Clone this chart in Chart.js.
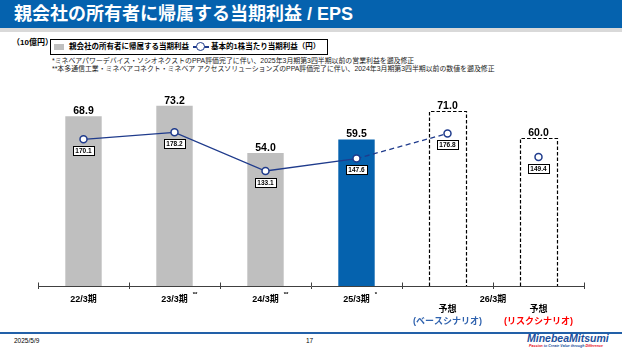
<!DOCTYPE html>
<html>
<head>
<meta charset="utf-8">
<script src="https://cdn.jsdelivr.net/npm/chart.js@4/dist/chart.umd.min.js"></script>
<style>
  body { margin: 0; width: 622px; height: 350px; background: #fff; position: relative; overflow: hidden;
         font-family: "Liberation Sans", "Noto Sans CJK JP", sans-serif; color: #000; }
  .abs { position: absolute; white-space: nowrap; }
  #titlebar { left: 0; top: 0; width: 622px; height: 28px; background: #0562AE; }
  #band { left: 0; top: 28px; width: 622px; height: 4px; background: #D9D9D9; }
  #title { left: 14px; top: 3px; font-size: 18px; line-height: 22px; font-weight: bold; color: #fff; }
  #unit { left: 12px; top: 38px; font-size: 8px; line-height: 10px; font-weight: bold; }
  #legend { left: 50px; top: 39px; width: 276px; height: 14px; border: 1px solid #000; }
  .lg { font-size: 7.5px; line-height: 10px; font-weight: bold; top: 2px; }
  .note { left: 52px; font-size: 6.9px; line-height: 8px; color: #222; }
  #foot { left: 0; top: 332px; width: 622px; height: 1.5px; background: #2260A8; }
  .ft { font-size: 6.5px; line-height: 8px; top: 337px; }
  #chartwrap { left: 0; top: 80px; width: 622px; height: 250px; }
</style>
</head>
<body>
<div id="titlebar" class="abs"></div>
<div id="band" class="abs"></div>
<div id="title" class="abs">親会社の所有者に帰属する当期利益 / EPS</div>
<div id="unit" class="abs">（10億円）</div>
<div id="legend" class="abs">
  <div class="abs" style="left:3px;top:4px;width:10px;height:6px;background:#BFBFBF;"></div>
  <div class="abs lg" style="left:18px;">親会社の所有者に帰属する当期利益</div>
  <div class="abs" style="left:142px;top:6px;width:16px;height:2px;background:#1F3B8C;"></div>
  <div class="abs" style="left:145px;top:2px;width:7px;height:7px;border:1.5px solid #1F3B8C;border-radius:50%;background:#fff;"></div>
  <div class="abs lg" style="left:160px;">基本的1株当たり当期利益（円）</div>
</div>
<div class="abs note" style="top:57px;">*ミネベアパワーデバイス・ソシオネクストのPPA評価完了に伴い、2025年3月期第3四半期以前の営業利益を遡及修正</div>
<div class="abs note" style="top:65px;">**本多通信工業・ミネベアコネクト・ミネベア アクセスソリューションズのPPA評価完了に伴い、2024年3月期第3四半期以前の数値を遡及修正</div>
<div id="chartwrap" class="abs"><canvas id="c" width="622" height="250"></canvas></div>
<div id="foot" class="abs"></div>
<div class="abs ft" style="left:14px;">2025/5/9</div>
<div class="abs ft" style="left:306px;">17</div>
<div class="abs" style="left:527px;top:332px;font-size:10.5px;line-height:12px;font-weight:bold;font-style:italic;color:#1B4F9C;">MinebeaMitsumi</div>
<div class="abs" style="left:529px;top:344px;font-size:3.6px;line-height:4px;font-weight:bold;font-style:italic;color:#1B4F9C;"><span style="color:#E60012">Passion</span> to Create Value through <span style="color:#E60012">Difference</span></div>
<script>
// data
const categories = ['22/3期', '23/3期', '24/3期', '25/3期', '予想', '予想'];
const netIncome = [68.9, 73.2, 54.0, 59.5, 71.0, 60.0];
const eps = [170.1, 178.2, 133.1, 147.6, 176.8, 149.4];
const marks = ['', '**', '**', '*', '', ''];
const scenarios = ['', '', '', '', '(ベースシナリオ)', '(リスクシナリオ)'];
const scenarioColors = ['', '', '', '', '#2F62AE', '#FF0000'];
const forecastYear = '26/3期';

const NAVY = '#1F3B8C';
const isForecast = i => i >= 4;

const overlay = {
  id: 'overlay',
  beforeDatasetsDraw(chart) {
    const c = chart.ctx;
    const meta = chart.getDatasetMeta(1);
    c.save();
    c.strokeStyle = '#000';
    c.lineWidth = 1.2;
    c.setLineDash([3.5, 2]);
    meta.data.forEach((bar, i) => {
      if (!isForecast(i)) return;
      const l = Math.round(bar.x - bar.width / 2) + 0.5;
      const r = Math.round(bar.x + bar.width / 2) + 0.5;
      const t = Math.round(bar.y) + 0.5;
      c.beginPath();
      c.moveTo(l, bar.base);
      c.lineTo(l, t);
      c.lineTo(r, t);
      c.lineTo(r, bar.base);
      c.stroke();
    });
    c.restore();
  },
  afterDatasetsDraw(chart) {
    const c = chart.ctx;
    const bars = chart.getDatasetMeta(1).data;
    const pts = chart.getDatasetMeta(0).data;
    c.save();
    c.textAlign = 'center';
    // bar values
    c.font = 'bold 10.5px "Liberation Sans", sans-serif';
    c.fillStyle = '#000';
    c.textBaseline = 'alphabetic';
    bars.forEach((bar, i) => c.fillText(netIncome[i].toFixed(1), bar.x, bar.y - 2));
    // eps boxes
    c.font = 'bold 6.5px "Liberation Sans", sans-serif';
    c.textBaseline = 'middle';
    pts.forEach((p, i) => {
      const txt = eps[i].toFixed(1);
      const w = Math.round(c.measureText(txt).width + 5);
      const h = 9;
      const x = Math.round(p.x - w / 2) + 0.5;
      const y = Math.round(p.y + 6.5) + 0.5;
      c.fillStyle = '#fff';
      c.fillRect(x, y, w, h);
      c.strokeStyle = '#000';
      c.lineWidth = 1;
      c.strokeRect(x, y, w, h);
      c.fillStyle = '#000';
      c.fillText(txt, p.x, y + h / 2 + 0.5);
    });
    c.restore();
  },
  afterDraw(chart) {
    const c = chart.ctx;
    const xs = chart.scales.x;
    const axisY = chart.chartArea.bottom;
    c.save();
    // upper half of tick marks
    c.strokeStyle = '#404040';
    c.lineWidth = 1;
    const step = (chart.chartArea.right - chart.chartArea.left) / categories.length;
    for (let i = 0; i <= categories.length; i++) {
      const x = Math.round(chart.chartArea.left + i * step) + 0.5;
      c.beginPath();
      c.moveTo(x, axisY - 3.5);
      c.lineTo(x, axisY);
      c.stroke();
    }
    c.textAlign = 'left';
    c.textBaseline = 'middle';
    c.fillStyle = '#000';
    c.font = 'bold 9px "Liberation Sans", "Noto Sans CJK JP", sans-serif';
    // note marks
    categories.forEach((lab, i) => {
      if (!marks[i]) return;
      const x = xs.getPixelForTick(i);
      const w = c.measureText(lab).width;
      c.save();
      c.font = 'bold 6px "Liberation Sans", sans-serif';
      c.fillText(marks[i], x + w / 2 + 5, axisY + 8);
      c.restore();
    });
    // 26/3期 group label
    c.textAlign = 'center';
    const gx = (xs.getPixelForTick(4) + xs.getPixelForTick(5)) / 2;
    c.fillText(forecastYear, gx, axisY + 13.5);
    // scenario labels
    scenarios.forEach((s, i) => {
      if (!s) return;
      c.fillStyle = scenarioColors[i];
      c.fillText(s, xs.getPixelForTick(i), axisY + 35.7);
    });
    c.restore();
  }
};

new Chart(document.getElementById('c'), {
  data: {
    labels: categories,
    datasets: [{
      type: 'line',
      label: '基本的1株当たり当期利益（円）',
      data: eps,
      yAxisID: 'y2',
      order: 0,
      borderColor: NAVY,
      borderWidth: 1.3,
      pointRadius: 3.5,
      pointBorderWidth: 1.5,
      pointBackgroundColor: '#fff',
      pointBorderColor: NAVY,
      tension: 0,
      segment: {
        borderDash: ctx => ctx.p0DataIndex === 3 ? [5, 3.5] : undefined,
        borderColor: ctx => ctx.p0DataIndex >= 4 ? 'rgba(0,0,0,0)' : undefined
      }
    }, {
      type: 'bar',
      label: '親会社の所有者に帰属する当期利益',
      data: netIncome,
      yAxisID: 'y',
      order: 1,
      backgroundColor: ['#BFBFBF', '#BFBFBF', '#BFBFBF', '#0562AE', 'rgba(0,0,0,0)', 'rgba(0,0,0,0)'],
      borderWidth: 0,
      categoryPercentage: 1,
      barPercentage: 0.4
    }]
  },
  options: {
    responsive: false,
    animation: false,
    layout: { padding: { left: 38, right: 38, top: 9, bottom: 0 } },
    plugins: { legend: { display: false }, tooltip: { enabled: false } },
    scales: {
      x: {
        offset: true,
        grid: { offset: true, drawOnChartArea: false, tickLength: 3, color: '#404040', lineWidth: 1 },
        border: { color: '#404040', width: 1 },
        afterFit: s => { s.height = 44; },
        ticks: {
          padding: 6,
          color: '#000',
          maxRotation: 0,
          autoSkip: false,
          font: { family: '"Liberation Sans", "Noto Sans CJK JP", sans-serif', size: 9, weight: 'bold', lineHeight: 1.1 },
          callback: (v, i) => isForecast(i) ? ['', categories[i]] : categories[i]
        }
      },
      y: { display: false, min: 0, max: 80 },
      y2: { display: false, min: -1.1, max: 228.8 }
    }
  },
  plugins: [overlay]
});
</script>
</body>
</html>
